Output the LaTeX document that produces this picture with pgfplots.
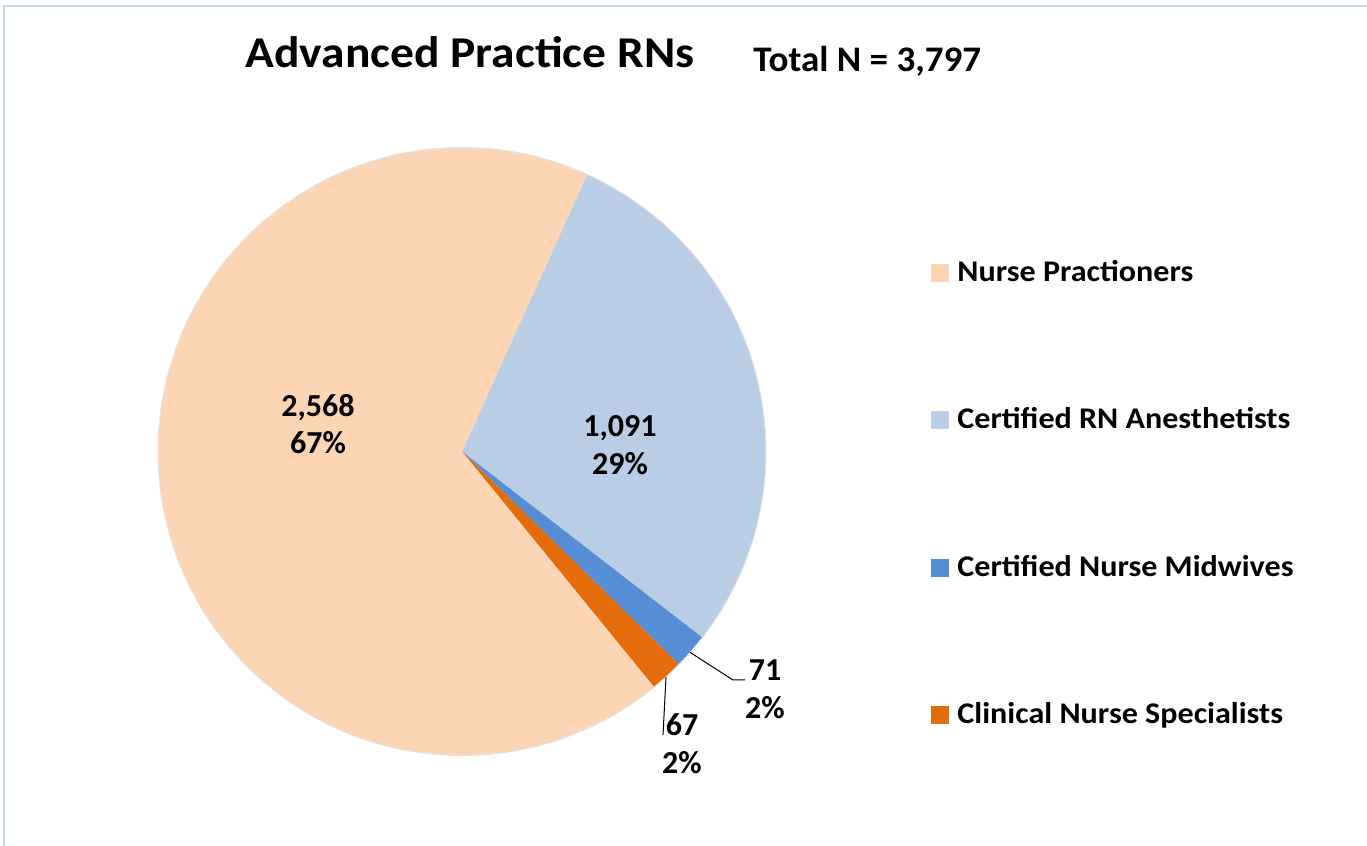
\documentclass[border=0pt]{standalone}
\usepackage{pgfplots}
\pgfplotsset{compat=1.18}
\usepackage{pgfplotstable}
\usepackage{fontspec}
\setmainfont{Carlito}

\definecolor{cNP}{HTML}{FCD5B5}
\definecolor{cCRNA}{HTML}{B9CDE5}
\definecolor{cCNM}{HTML}{558ED5}
\definecolor{cCNS}{HTML}{E46C0A}
\definecolor{frame}{HTML}{C6D9F0}

\pgfplotstableread{
name value
NP 2568
CRNA 1091
CNM 71
CNS 67
}\datatable

\pgfplotstablegetelem{0}{value}\of\datatable \let\vNP\pgfplotsretval
\pgfplotstablegetelem{1}{value}\of\datatable \let\vCRNA\pgfplotsretval
\pgfplotstablegetelem{2}{value}\of\datatable \let\vCNM\pgfplotsretval
\pgfplotstablegetelem{3}{value}\of\datatable \let\vCNS\pgfplotsretval
\pgfmathsetmacro\vTot{\vNP+\vCRNA+\vCNM+\vCNS}
\pgfmathsetmacro\aA{65.7}
\pgfmathsetmacro\aB{\aA-\vCRNA/\vTot*360}
\pgfmathsetmacro\aC{\aB-\vCNM/\vTot*360}
\pgfmathsetmacro\aD{\aC-\vCNS/\vTot*360}
\pgfmathsetmacro\aE{\aD-\vNP/\vTot*360}
\def\R{152pt}

\begin{document}
\begin{tikzpicture}
\useasboundingbox (0,0) rectangle (683.5pt,-423pt);
\begin{scope}[x=0.5pt,y=-0.5pt]
\draw[frame, line width=1pt] (1367,6) -- (4,6) -- (4,846);
\node[anchor=base west, font=\fontsize{22}{26}\selectfont\bfseries, inner sep=0pt, xscale=1.08] at (245,68) {Advanced Practice RNs};
\node[anchor=base west, font=\fontsize{18}{22}\selectfont\bfseries, inner sep=0pt, xscale=1.03] at (753,71.7) {Total N = 3,797};
% legend
\fill[cNP] (931,264) rectangle (949,282);
\fill[cCRNA] (931,411) rectangle (949,429);
\fill[cCNM] (931,559) rectangle (949,577);
\fill[cCNS] (931,706) rectangle (949,724);
\begin{scope}[every node/.style={anchor=base west, font=\fontsize{15}{18}\selectfont\bfseries, inner sep=0pt, xscale=1.07}]
\node at (957,281.7) {Nurse Practioners};
\node at (957,428.5) {Certified RN Anesthetists};
\node at (957,576) {Certified Nurse Midwives};
\node at (957,723) {Clinical Nurse Specialists};
\end{scope}
\end{scope}
\begin{axis}[at={(231pt,-225.75pt)}, anchor=center, scale only axis,
  width=304pt, height=304pt, xmin=-1, xmax=1, ymin=-1, ymax=1,
  hide axis, clip=false]
\fill[cCRNA] (axis cs:0,0) -- ++(\aA:\R) arc[start angle=\aA, end angle=\aB, radius=\R] -- cycle;
\fill[cCNM] (axis cs:0,0) -- ++(\aB:\R) arc[start angle=\aB, end angle=\aC, radius=\R] -- cycle;
\fill[cCNS] (axis cs:0,0) -- ++(\aC:\R) arc[start angle=\aC, end angle=\aD, radius=\R] -- cycle;
\fill[cNP] (axis cs:0,0) -- ++(\aD:\R) arc[start angle=\aD, end angle=\aE, radius=\R] -- cycle;
\draw[black!10, line width=0.5pt] (axis cs:0,0) ++(0:\R) arc[start angle=0, end angle=360, radius=\R];
\draw[black, line width=0.5pt] (axis cs:0.750,-0.6605) -- (axis cs:0.8914,-0.7516) -- (axis cs:0.9309,-0.7516);
\draw[black, line width=0.5pt] (axis cs:0.6711,-0.7418) -- (axis cs:0.6612,-0.9326);
\begin{scope}[every node/.style={align=center, font=\fontsize{16}{18.8}\selectfont\bfseries, inner sep=0pt}]
\node at (axis cs:-0.4737,0.0905) {2,568\\67\%};
\node at (axis cs:0.5197,0.0214) {1,091\\29\%};
\node at (axis cs:0.9967,-0.7813) {71\\2\%};
\node at (axis cs:0.7237,-0.962) {67\\2\%};
\end{scope}
\end{axis}
\end{tikzpicture}
\end{document}
